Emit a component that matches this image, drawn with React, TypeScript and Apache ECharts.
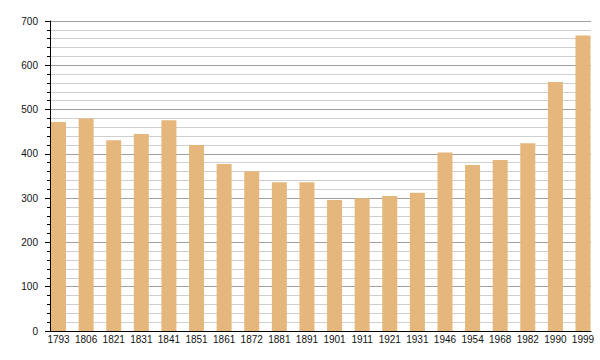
import React, { useEffect, useRef } from "react";
import * as echarts from "echarts";

const years = ["1793", "1806", "1821", "1831", "1841", "1851", "1861", "1872", "1881", "1891", "1901", "1911", "1921", "1931", "1946", "1954", "1968", "1982", "1990", "1999"];
const population = [472, 480, 431, 445, 476, 420, 377, 361, 336, 336, 296, 300, 305, 312, 403, 375, 386, 424, 562, 667];
const yMin = 0;
const yMax = 700;
const yInterval = 100;

export default function App() {
  const ref = useRef<HTMLDivElement>(null);
  useEffect(() => {
    document.body.style.margin = "0";
    const chart = echarts.init(ref.current!, null, { renderer: "svg" });
    const font = "Liberation Sans, Arial, sans-serif";
    chart.setOption({
      animation: false,
      backgroundColor: "#ffffff",
      grid: [
        { left: 50, right: 9, top: 21, bottom: 29 },
        { left: 44.7, right: 3.2, top: 21, bottom: 29 },
      ],
      xAxis: [
        {
          type: "value",
          gridIndex: 0,
          min: 0,
          max: 1,
          axisLine: { show: true, lineStyle: { color: "#000", width: 1 } },
          axisTick: { show: false },
          axisLabel: { show: false },
          splitLine: { show: false },
        },
        {
          type: "category",
          gridIndex: 1,
          data: years,
          axisLine: { show: false },
          axisTick: { show: false },
          axisLabel: { color: "#111", fontSize: 10, fontFamily: font, margin: 3, interval: 0 },
          splitLine: { show: false },
        },
      ],
      yAxis: [
        {
          type: "value",
          gridIndex: 0,
          min: yMin,
          max: yMax,
          interval: yInterval,
          axisLine: { show: true, lineStyle: { color: "#000", width: 1 } },
          axisTick: { show: true, length: 5, lineStyle: { color: "#000" } },
          minorTick: { show: true, splitNumber: 5, length: 3, lineStyle: { color: "#000" } },
          axisLabel: { color: "#111", fontSize: 10, fontFamily: font, margin: 12 },
          splitLine: { show: true, lineStyle: { color: "#a0a0a0", width: 1 } },
          minorSplitLine: { show: true, lineStyle: { color: "#cfcfcf", width: 1 } },
        },
        {
          type: "value",
          gridIndex: 1,
          min: yMin,
          max: yMax,
          interval: yInterval,
          show: false,
          splitLine: { show: false },
        },
      ],
      series: [
        {
          type: "bar",
          xAxisIndex: 1,
          yAxisIndex: 1,
          data: population,
          barWidth: 15,
          itemStyle: { color: "#e5b77c" },
          z: 3,
        },
      ],
    });
    return () => chart.dispose();
  }, []);
  return <div ref={ref} style={{ width: 600, height: 360 }} />;
}
